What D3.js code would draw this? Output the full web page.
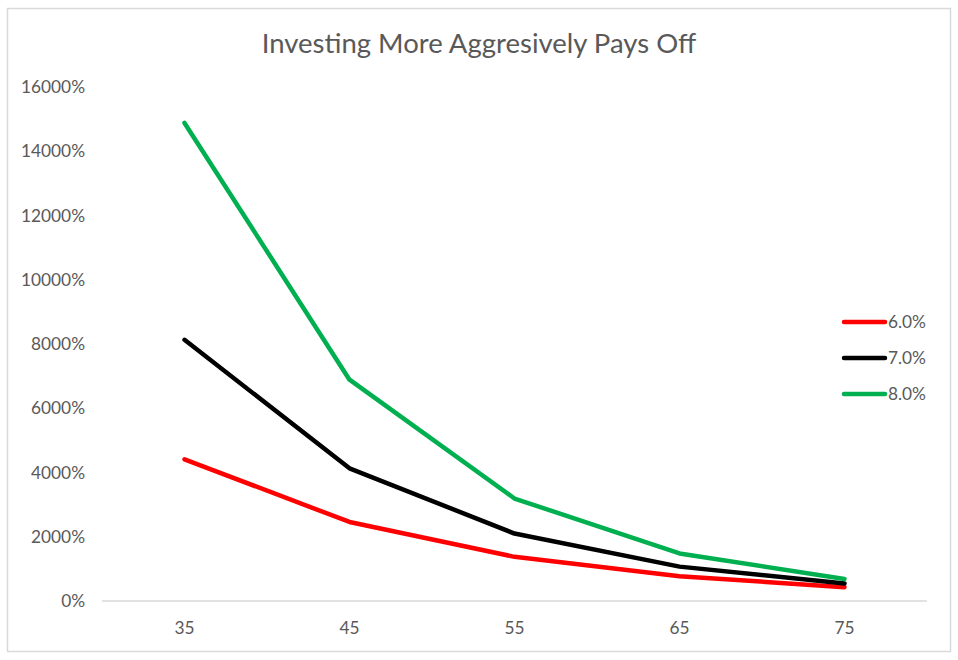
<!DOCTYPE html>
<html>
<head>
<meta charset="utf-8">
<script src="https://cdn.jsdelivr.net/npm/d3@7"></script>
<style>
  body { margin: 0; background: #fff; }
  text { font-family: Lato, "Open Sans", sans-serif; fill: #595959; }
</style>
</head>
<body>
<div id="chart"></div>
<script>
// ages on the x axis
var ages = ["35", "45", "55", "65", "75"];
// series names (annual return)
var seriesNames = ["6.0%", "7.0%", "8.0%"];
var seriesColors = ["#ff0000", "#000000", "#00b050"];
// growth in percent
var rate6 = [4410, 2460, 1375, 770, 430];
var rate7 = [8130, 4130, 2100, 1070, 545];
var rate8 = [14880, 6890, 3190, 1480, 685];
var yTicks = [0, 2000, 4000, 6000, 8000, 10000, 12000, 14000, 16000];

var width = 958, height = 660;
var margin = {top: 87, right: 31, bottom: 59, left: 102};

var svg = d3.select("#chart").append("svg")
    .attr("width", width)
    .attr("height", height);

// chart border
svg.append("rect")
    .attr("x", 7.5).attr("y", 8.5)
    .attr("width", 943).attr("height", 643)
    .attr("fill", "#fff")
    .attr("stroke", "#d9d9d9")
    .attr("stroke-width", 1.5);

svg.append("text")
    .text("Investing More Aggresively Pays Off")
    .attr("x", 479).attr("y", 53)
    .attr("text-anchor", "middle")
    .style("font-size", "27.5px");

var x = d3.scaleBand()
    .domain(ages)
    .range([margin.left, width - margin.right]);

var y = d3.scaleLinear()
    .domain([0, 16000])
    .range([height - margin.bottom, margin.top]);

// y labels
svg.selectAll(".ylab").data(yTicks)
    .enter().append("text")
    .attr("class", "ylab")
    .attr("x", 85)
    .attr("y", function (d) { return y(d); })
    .attr("dy", "0.35em")
    .attr("text-anchor", "end")
    .style("font-size", "17.3px")
    .text(function (d) { return d + "%"; });

// x axis line
svg.append("line")
    .attr("x1", margin.left).attr("x2", width - margin.right)
    .attr("y1", y(0)).attr("y2", y(0))
    .attr("stroke", "#d9d9d9")
    .attr("stroke-width", 1.5);

svg.selectAll(".xlab").data(ages)
    .enter().append("text")
    .attr("class", "xlab")
    .attr("x", function (d) { return x(d) + x.bandwidth() / 2; })
    .attr("y", y(0) + 33)
    .attr("text-anchor", "middle")
    .style("font-size", "17.3px")
    .text(function (d) { return d; });

var line = d3.line()
    .x(function (d, i) { return x(ages[i]) + x.bandwidth() / 2; })
    .y(function (d) { return y(d); });

var series = [rate6, rate7, rate8];

svg.selectAll(".series").data(series)
    .enter().append("path")
    .attr("class", "series")
    .attr("d", line)
    .attr("fill", "none")
    .attr("stroke", function (d, i) { return seriesColors[i]; })
    .attr("stroke-width", 4.5)
    .attr("stroke-linejoin", "round")
    .attr("stroke-linecap", "round");

// legend
var legend = svg.selectAll(".legend").data(seriesNames)
    .enter().append("g")
    .attr("class", "legend")
    .attr("transform", function (d, i) { return "translate(844," + (322 + i * 36) + ")"; });

legend.append("line")
    .attr("x1", 0).attr("x2", 41)
    .attr("stroke", function (d, i) { return seriesColors[i]; })
    .attr("stroke-width", 4.5)
    .attr("stroke-linecap", "round");

legend.append("text")
    .attr("x", 44)
    .attr("dy", "0.35em")
    .style("font-size", "17.3px")
    .text(function (d) { return d; });
</script>
</body>
</html>
